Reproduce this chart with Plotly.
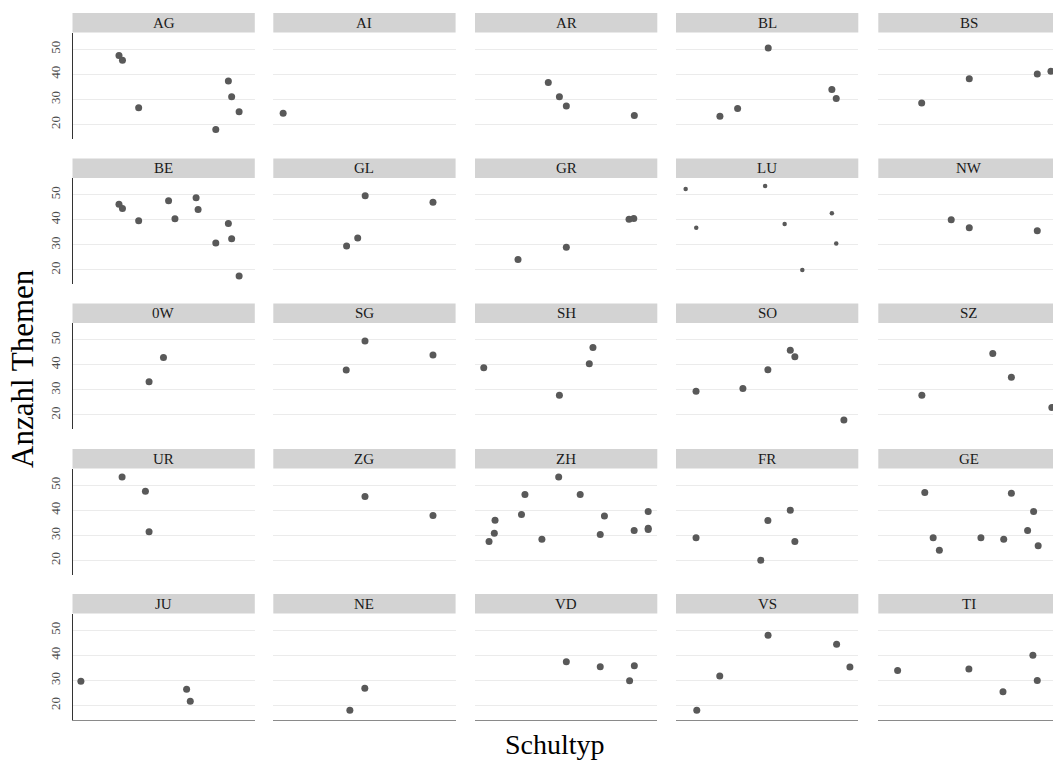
import plotly.graph_objects as go

# ---------------- data ----------------
panels = ["AG", "AI", "AR", "BL", "BS",
          "BE", "GL", "GR", "LU", "NW",
          "0W", "SG", "SH", "SO", "SZ",
          "UR", "ZG", "ZH", "FR", "GE",
          "JU", "NE", "VD", "VS", "TI"]

AG_x = [25.5, 27.4, 36.3, 78.6, 85.5, 87.3, 91.4]
AG_y = [47.5, 45.6, 26.7, 18.0, 37.3, 31.1, 25.1]
AI_x = [5.4]
AI_y = [24.5]
AR_x = [40.2, 46.3, 50.1, 87.4]
AR_y = [36.7, 31.1, 27.4, 23.6]
BL_x = [24.1, 33.8, 50.6, 85.5, 87.9]
BL_y = [23.3, 26.4, 50.5, 33.9, 30.4]
BS_x = [23.8, 49.9, 87.2, 94.7]
BS_y = [28.6, 38.2, 40.1, 41.2]
BE_x = [25.5, 27.4, 36.3, 52.7, 56.2, 67.8, 68.9, 78.6, 85.5, 87.3, 91.4]
BE_y = [46.2, 44.5, 39.6, 47.6, 40.4, 48.8, 44.1, 30.8, 38.5, 32.4, 17.6]
GL_x = [40.2, 46.3, 50.4, 87.6]
GL_y = [29.6, 32.7, 49.6, 47.0]
GR_x = [23.6, 50.1, 84.5, 87.1]
GR_y = [24.2, 29.1, 40.2, 40.5]
LU_x = [5.3, 11.1, 48.9, 59.6, 69.3, 85.5, 87.9]
LU_y = [52.3, 36.8, 53.5, 38.3, 20.0, 42.6, 30.6]
NW_x = [40.0, 49.9, 87.2]
NW_y = [40.0, 36.8, 35.6]
OW_x = [42.0, 49.9]
OW_y = [33.2, 42.9]
SG_x = [40.0, 50.3, 87.6]
SG_y = [37.9, 49.5, 43.9]
SH_x = [4.8, 46.3, 62.7, 64.7]
SH_y = [38.8, 27.9, 40.4, 46.9]
SO_x = [11.0, 36.7, 50.4, 62.7, 65.2, 92.1]
SO_y = [29.5, 30.6, 38.0, 45.8, 43.2, 18.0]
SZ_x = [23.9, 62.8, 73.0, 95.2]
SZ_y = [27.9, 44.5, 35.0, 23.0]
UR_x = [27.2, 40.0, 42.0]
UR_y = [53.3, 47.6, 31.5]
ZG_x = [50.3, 87.6]
ZG_y = [45.5, 37.9]
ZH_x = [7.7, 10.6, 11.0, 25.5, 27.4, 36.7, 45.9, 57.7, 68.7, 71.0, 87.3, 95.0, 95.0, 95.0]
ZH_y = [27.6, 30.9, 36.0, 38.3, 46.3, 28.5, 53.3, 46.3, 30.4, 37.7, 31.9, 39.5, 32.8, 32.3]
FR_x = [11.0, 46.5, 50.4, 62.7, 65.2]
FR_y = [29.1, 20.1, 35.9, 40.0, 27.6]
GE_x = [25.5, 30.1, 33.5, 56.3, 68.8, 73.0, 81.9, 85.2, 87.7]
GE_y = [47.1, 29.1, 24.1, 29.1, 28.5, 46.8, 31.9, 39.5, 25.9]
JU_x = [4.6, 62.6, 64.6]
JU_y = [29.7, 26.5, 21.7]
NE_x = [42.0, 50.2]
NE_y = [18.1, 26.9]
VD_x = [50.1, 68.7, 84.8, 87.4]
VD_y = [37.4, 35.4, 29.9, 35.8]
VS_x = [11.4, 24.0, 50.5, 88.1, 95.4]
VS_y = [18.1, 31.8, 48.0, 44.4, 35.3]
TI_x = [10.6, 49.7, 68.4, 84.8, 87.2]
TI_y = [33.9, 34.5, 25.5, 40.0, 30.0]

panel_x = [AG_x, AI_x, AR_x, BL_x, BS_x,
           BE_x, GL_x, GR_x, LU_x, NW_x,
           OW_x, SG_x, SH_x, SO_x, SZ_x,
           UR_x, ZG_x, ZH_x, FR_x, GE_x,
           JU_x, NE_x, VD_x, VS_x, TI_x]
panel_y = [AG_y, AI_y, AR_y, BL_y, BS_y,
           BE_y, GL_y, GR_y, LU_y, NW_y,
           OW_y, SG_y, SH_y, SO_y, SZ_y,
           UR_y, ZG_y, ZH_y, FR_y, GE_y,
           JU_y, NE_y, VD_y, VS_y, TI_y]

y_ticks = [20, 30, 40, 50]

# ---------------- layout geometry (pixels) ----------------
W, H = 1053, 763
col_left = [72.5, 273.3, 475.0, 676.0, 878.3]
panel_w = 182.3
strip_top = [13.0, 158.5, 303.5, 449.0, 594.0]
strip_h = 19.5
panel_h = 106.0
y_range = [14.42, 56.65]

FONT = "Liberation Serif"
POINT_COLOR = "#595959"

fig = go.Figure()
shapes = []
annotations = []
layout_axes = {}

for i, name in enumerate(panels):
    r, c = divmod(i, 5)
    n = i + 1
    xa = "x" if n == 1 else f"x{n}"
    ya = "y" if n == 1 else f"y{n}"
    x0 = col_left[c]
    x1 = min(x0 + panel_w, W)
    xr = [0, (x1 - x0) / panel_w * 100]
    yt = strip_top[r] + strip_h
    yb = yt + panel_h

    size = 4.5 if name == "LU" else 7
    fig.add_trace(go.Scatter(
        x=panel_x[i], y=panel_y[i], mode="markers",
        marker=dict(color=POINT_COLOR, size=size, line=dict(width=0)),
        xaxis=xa, yaxis=ya, showlegend=False, hoverinfo="skip",
        cliponaxis=True,
    ))

    layout_axes["xaxis" if n == 1 else f"xaxis{n}"] = dict(
        domain=[x0 / W, x1 / W], range=xr, anchor=ya,
        showticklabels=False, showgrid=False, zeroline=False, ticks="",
        showline=(r == 4), linecolor="#8A8A8A", linewidth=1.3,
        fixedrange=True,
    )
    layout_axes["yaxis" if n == 1 else f"yaxis{n}"] = dict(
        domain=[1 - yb / H, 1 - yt / H], range=y_range, anchor=xa,
        tickvals=y_ticks, showticklabels=(c == 0), tickangle=-90,
        tickfont=dict(family=FONT, size=13, color="#4D4D4D"),
        ticks="", ticklabelstandoff=6,
        showgrid=True, gridcolor="#EBEBEB", gridwidth=1.2, zeroline=False,
        showline=(c == 0), linecolor="#333333", linewidth=1,
        fixedrange=True,
    )

    # strip
    shapes.append(dict(
        type="rect", xref="paper", yref="paper",
        x0=x0 / W, x1=x1 / W, y0=1 - yt / H, y1=1 - strip_top[r] / H,
        fillcolor="#D3D3D3", line=dict(width=0), layer="below",
    ))
    annotations.append(dict(
        text=name, xref="paper", yref="paper",
        x=(x0 + panel_w / 2) / W, y=1 - (strip_top[r] + strip_h / 2) / H,
        xanchor="center", yanchor="middle", showarrow=False,
        font=dict(family=FONT, size=15, color="#1A1A1A"),
    ))

# axis titles
annotations.append(dict(
    text="Schultyp", xref="paper", yref="paper",
    x=555 / W, y=1 - 744 / H, xanchor="center", yanchor="middle",
    showarrow=False, font=dict(family=FONT, size=28, color="#000000"),
))
annotations.append(dict(
    text="Anzahl Themen", xref="paper", yref="paper",
    x=23 / W, y=1 - 369 / H, xanchor="center", yanchor="middle",
    showarrow=False, textangle=-90,
    font=dict(family=FONT, size=31, color="#000000"),
))

fig.update_layout(
    width=W, height=H,
    margin=dict(l=0, r=0, t=0, b=0),
    paper_bgcolor="white", plot_bgcolor="white",
    font=dict(family=FONT),
    shapes=shapes, annotations=annotations,
    showlegend=False,
    **layout_axes,
)

fig.write_html(
    "out.html",
    config={"displayModeBar": False},
    post_script="document.body.style.margin='0';document.body.style.padding='0';document.body.style.overflow='hidden';",
)
